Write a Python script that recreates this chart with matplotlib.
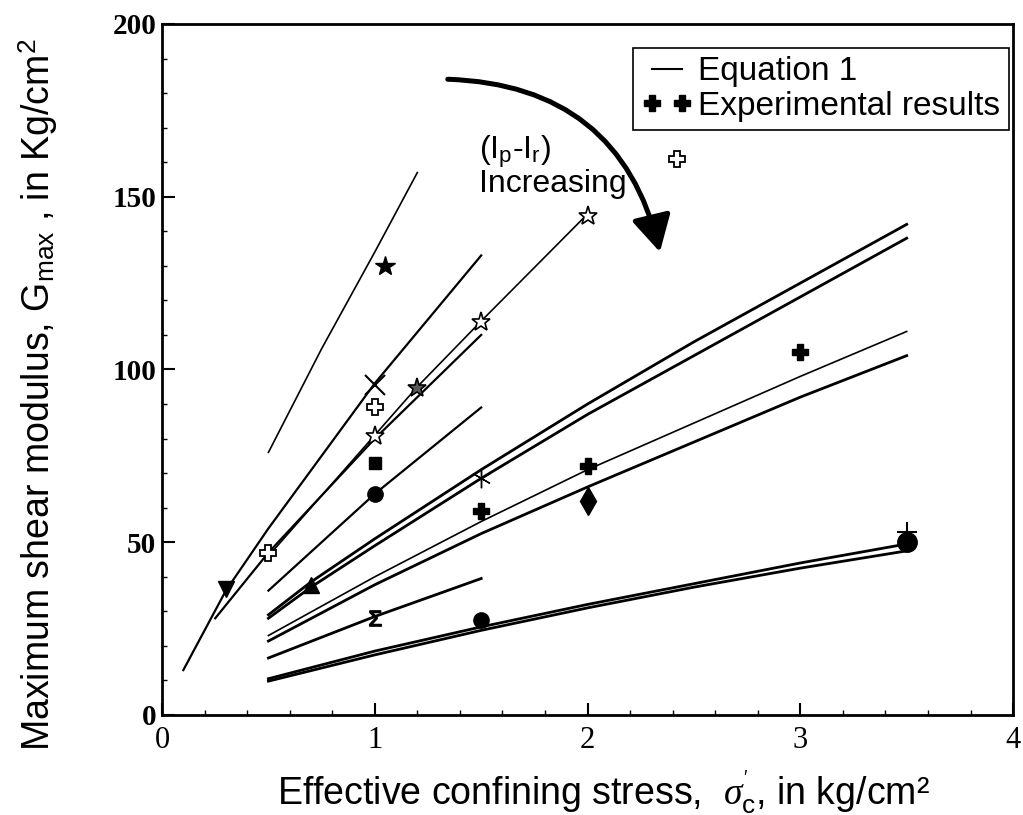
import matplotlib
matplotlib.use("Agg")
import matplotlib.pyplot as plt
from matplotlib.lines import Line2D
from matplotlib.patches import FancyArrowPatch, ArrowStyle

# Equation 1 curves
c1_x = [0.5, 0.75, 1.0, 1.2]
c1_y = [76, 106, 134, 157]
c2_x = [0.1, 0.3, 0.5, 1.0, 1.5]
c2_y = [13, 36, 54, 96, 133]
c3a_x = [0.5, 1.0, 1.2, 1.5, 2.0]
c3a_y = [46, 81, 95, 114, 145]
c3b_x = [0.25, 0.5, 1.0, 1.5]
c3b_y = [28, 47, 80, 110]
c4_x = [0.5, 1.0, 1.5]
c4_y = [36, 64, 89]
c5_x = [0.5, 0.7, 1.0, 1.5, 2.0, 2.5, 3.0, 3.5]
c5a_y = [29, 38.5, 51, 71, 90, 108, 125, 142]
c5b_y = [28, 37, 49, 68.5, 87, 104, 121, 138]
c6_x = [0.5, 1.0, 1.5, 2.0, 2.5, 3.0, 3.5]
c6a_y = [23, 40, 56, 71, 84.5, 98, 111]
c6b_y = [21.4, 37.7, 52.5, 66, 79, 92, 104]
c7_x = [0.5, 1.0, 1.5]
c7_y = [16.5, 28.5, 39.5]
c8_x = [0.5, 1.0, 1.5, 2.0, 2.5, 3.0, 3.5]
c8a_y = [10.5, 18.5, 25.5, 32, 38, 44, 49.5]
c8b_y = [9.8, 17.4, 24.5, 31, 37, 42.5, 47.5]

# experimental points
tri_down_x, tri_down_y = [0.3], [36.5]
tri_up_x, tri_up_y = [0.7], [37.5]
open_cross_x, open_cross_y = [0.5, 1.0, 2.42], [47, 89, 161]
xmark_x, xmark_y = [1.0], [95.5]
open_star_x, open_star_y = [1.0, 1.5, 2.0], [80.7, 113.8, 144.5]
dark_star_x, dark_star_y = [1.2], [94.6]
square_x, square_y = [1.0], [73]
circle_x, circle_y = [1.0, 1.5], [64, 27.5]
big_circle_x, big_circle_y = [3.5], [50]
filled_star_x, filled_star_y = [1.05], [130]
asterisk_x, asterisk_y = [1.5], [68.6]
cross_x, cross_y = [1.5, 2.0, 3.0], [59, 72, 105]
diamond_x, diamond_y = [2.0], [62]
sigma_x, sigma_y = [1.0], [28]
plus_x, plus_y = [3.5], [53]

legend_labels = ["Equation 1", "Experimental results"]

plt.rcParams["font.family"] = ["Liberation Sans", "DejaVu Sans"]
plt.rcParams["mathtext.fontset"] = "custom"
plt.rcParams["mathtext.rm"] = "Liberation Sans"
plt.rcParams["mathtext.it"] = "Liberation Serif:italic"

fig = plt.figure(figsize=(10.23, 8.15), dpi=100)
ax = fig.add_axes([0.1584, 0.1227, 0.8319, 0.8479])

thin, mid, thick = 1.2, 1.6, 2.0
ax.plot(c1_x, c1_y, "k-", lw=thin)
ax.plot(c2_x, c2_y, "k-", lw=mid)
ax.plot(c3a_x, c3a_y, "k-", lw=thin)
ax.plot(c3b_x, c3b_y, "k-", lw=mid)
ax.plot(c4_x, c4_y, "k-", lw=mid)
ax.plot(c5_x, c5a_y, "k-", lw=thick)
ax.plot(c5_x, c5b_y, "k-", lw=thick)
ax.plot(c6_x, c6a_y, "k-", lw=thin)
ax.plot(c6_x, c6b_y, "k-", lw=thick)
ax.plot(c7_x, c7_y, "k-", lw=thick)
ax.plot(c8_x, c8a_y, "k-", lw=thick)
ax.plot(c8_x, c8b_y, "k-", lw=thick)

mk = dict(ls="none", color="k")
ax.plot(tri_down_x, tri_down_y, marker="v", ms=12, **mk)
ax.plot(tri_up_x, tri_up_y, marker="^", ms=12, **mk)
ax.plot(open_cross_x, open_cross_y, marker="P", ms=11, mfc="white", mec="k", mew=1.3, **mk)
ax.plot(xmark_x, xmark_y, marker="x", ms=15, mew=1.5, **mk)
ax.plot(open_star_x, open_star_y, marker="*", ms=14, mfc="white", mec="k", mew=1.2, **mk)
ax.plot(dark_star_x, dark_star_y, marker="*", ms=14, mfc="0.35", mec="k", mew=1.2, **mk)
ax.plot(square_x, square_y, marker="s", ms=9, **mk)
ax.plot(circle_x, circle_y, marker="o", ms=11, **mk)
ax.plot(big_circle_x, big_circle_y, marker="o", ms=14, **mk)
ax.plot(filled_star_x, filled_star_y, marker="*", ms=15, **mk)
ax.plot(asterisk_x, asterisk_y, marker=(6, 2, 0), ms=14, mew=1.0, **mk)
ax.plot(cross_x, cross_y, marker="P", ms=12, **mk)
ax.plot(diamond_x, diamond_y, marker="d", ms=14, **mk)
ax.plot(sigma_x, sigma_y, marker=r"$\Sigma$", ms=11, **mk)
ax.plot(plus_x, plus_y, marker="+", ms=15, mew=1.5, **mk)

# curved arrow and note
arrow = FancyArrowPatch((1.343, 184), (2.34, 134), connectionstyle="arc3,rad=-0.38",
                        arrowstyle=ArrowStyle("-|>", head_length=1.1, head_width=0.6),
                        mutation_scale=20, lw=3.6, color="k", shrinkA=0, shrinkB=0)
ax.add_patch(arrow)
ax.text(1.49, 161, r"(I$_{\rm p}$-I$_{\rm r}$)", fontsize=23, ha="left", va="baseline")
ax.text(1.49, 151.5, "Increasing", fontsize=23, ha="left", va="baseline")

handles = [Line2D([], [], color="k", lw=1.5),
           Line2D([], [], color="k", marker="P", ms=11, ls="none")]
leg = ax.legend(handles, legend_labels, loc="upper right", bbox_to_anchor=(0.995, 0.965),
                borderaxespad=0, numpoints=2, fontsize=24, handlelength=1.5,
                handletextpad=0.2, borderpad=0.25, labelspacing=0.1, fancybox=False,
                framealpha=1)
leg.get_frame().set_edgecolor("k")
leg.get_frame().set_linewidth(1.2)

ax.set_xlim(0, 4)
ax.set_ylim(0, 200)
ax.set_xticks([0, 1, 2, 3, 4])
ax.set_yticks([0, 50, 100, 150, 200])
ax.set_xticks([i * 0.2 for i in range(21)], minor=True)
ax.set_yticks(list(range(0, 201, 10)), minor=True)
ax.tick_params(which="major", direction="in", length=9, width=1.5)
ax.tick_params(which="minor", direction="in", length=3.5, width=1.0)
ax.tick_params(axis="x", pad=8)
ax.tick_params(axis="y", pad=4)
for lab in ax.get_xticklabels():
    lab.set_fontfamily("Liberation Serif")
    lab.set_fontsize(22)
for lab in ax.get_yticklabels():
    lab.set_fontfamily("Liberation Serif")
    lab.set_fontsize(21)
    lab.set_fontweight("bold")
for sp in ax.spines.values():
    sp.set_linewidth(2)

ax.set_xlabel(r"Effective confining stress,  $\sigma^{'}_{\rm c}$, in kg/cm²", fontsize=27)
ax.set_ylabel(r"Maximum shear modulus, G$_{\rm max}$ , in Kg/cm$^{\rm 2}$", fontsize=27)
ax.xaxis.set_label_coords(0.518, -0.077)
ax.yaxis.set_label_coords(-0.12, 0.463)

fig.savefig("out.png", dpi=100)
